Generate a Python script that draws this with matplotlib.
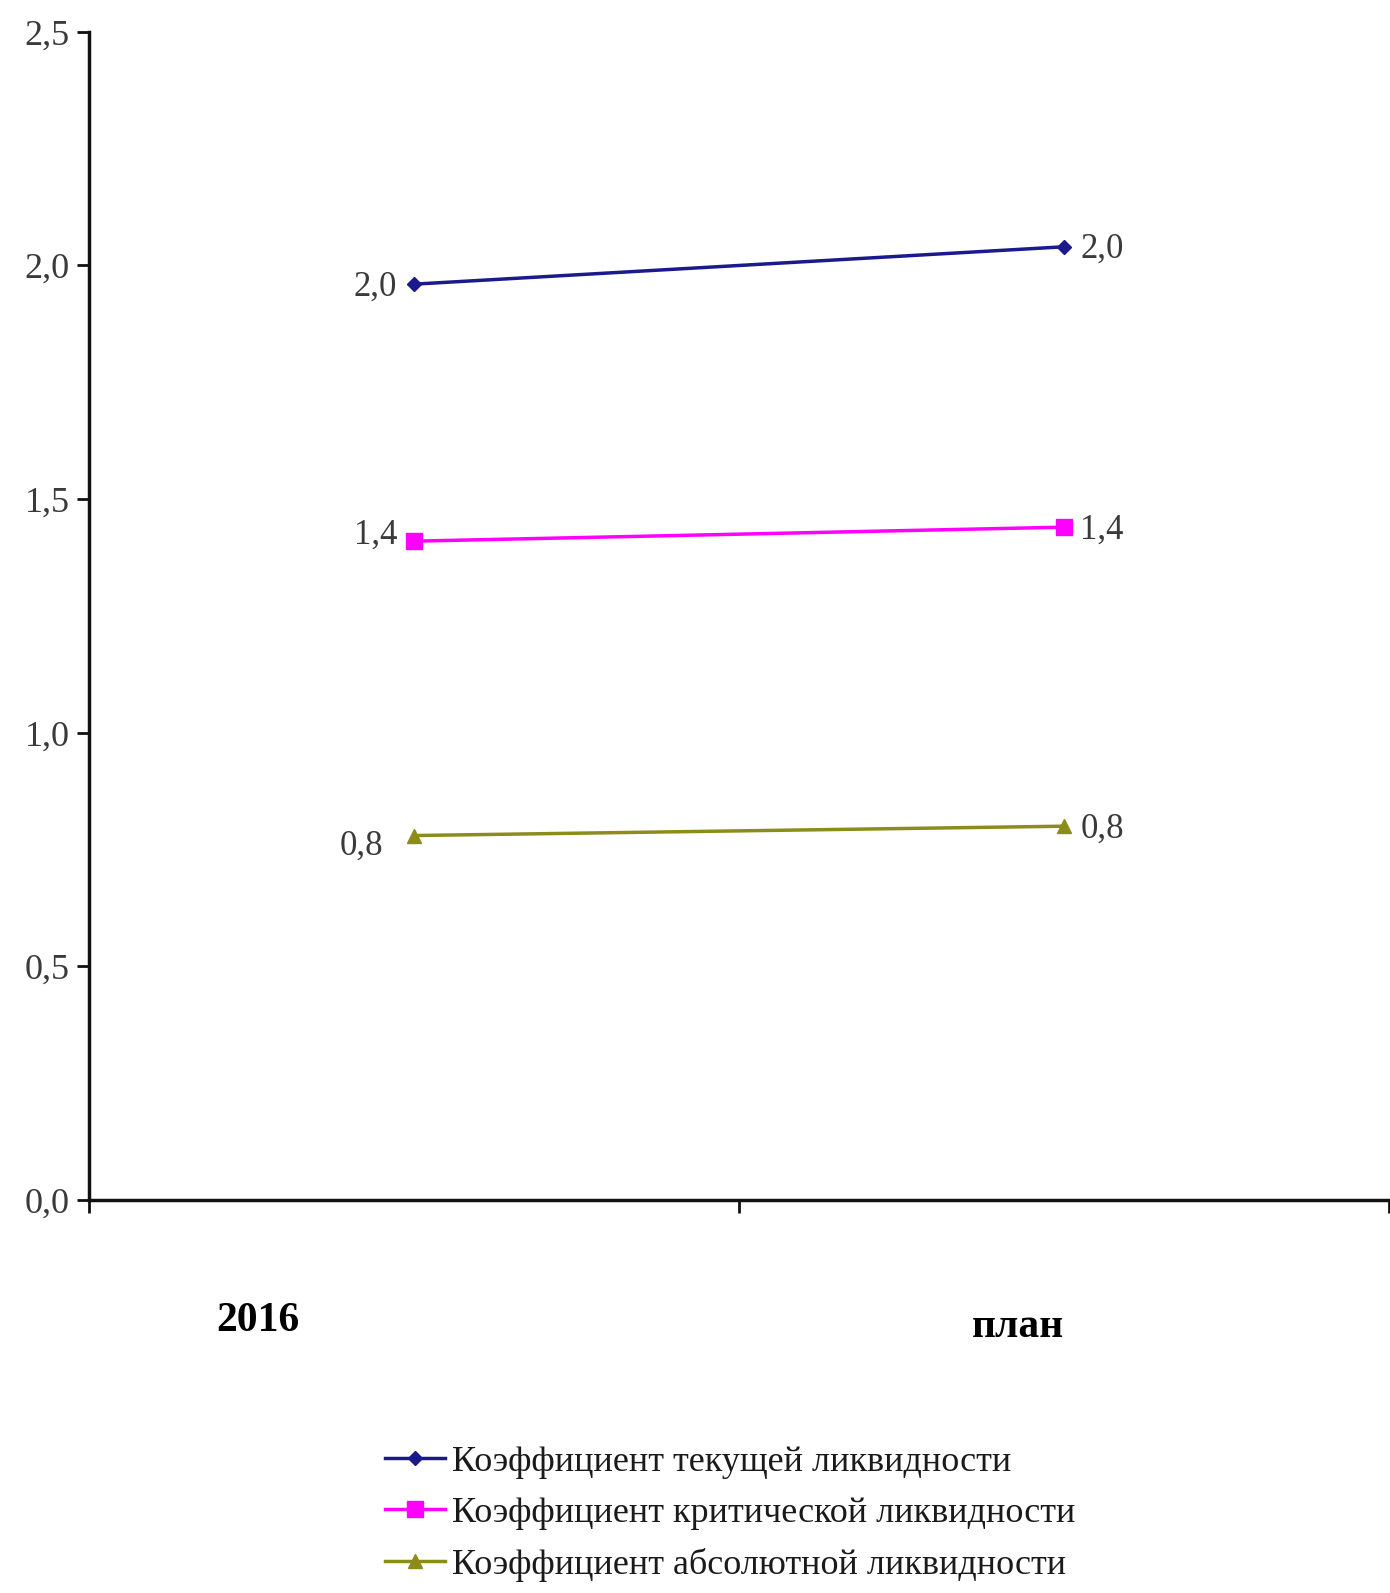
import matplotlib
matplotlib.use("Agg")
import matplotlib.pyplot as plt
from matplotlib.transforms import blended_transform_factory

categories = ["2016", "план"]
series_names = [
    "Коэффициент текущей ликвидности",
    "Коэффициент критической ликвидности",
    "Коэффициент абсолютной ликвидности",
]
current_ratio = [1.96, 2.04]
quick_ratio = [1.41, 1.44]
cash_ratio = [0.78, 0.80]
y_ticks = [0.0, 0.5, 1.0, 1.5, 2.0, 2.5]

values = [current_ratio, quick_ratio, cash_ratio]
colors = ["#1a1a8c", "#ff00ff", "#8c8c1a"]
markers = ["D", "s", "^"]
msizes = [7, 11, 10]
left_offsets = [(-12, -2), (-12, 4), (-22, -8)]

text_color = "#3a3a3a"
serif = ["Liberation Serif", "DejaVu Serif"]


def fmt(v):
    return f"{v:.1f}".replace(".", ",")


fig = plt.figure(figsize=(13.9, 15.93), dpi=100)
ax = fig.add_axes([0.064, 0.2467, 0.935, 0.7333])

x = [0.5, 1.5]
for vals, name, c, m, ms, loff in zip(values, series_names, colors, markers, msizes, left_offsets):
    ax.plot(x, vals, color=c, lw=2.5, marker=m, ms=ms, mfc=c, mec=c, label=name)
    ax.annotate(fmt(vals[0]), (x[0], vals[0]), xytext=loff, textcoords="offset points",
                ha="right", va="center", fontsize=25, family=serif, color=text_color)
    ax.annotate(fmt(vals[1]), (x[1], vals[1]), xytext=(12, -2), textcoords="offset points",
                ha="left", va="center", fontsize=25, family=serif, color=text_color)

ax.set_xlim(0, 2)
ax.set_ylim(0, 2.5)
ax.set_yticks(y_ticks)
ax.set_yticklabels([fmt(t) for t in y_ticks], family=serif, fontsize=26, color=text_color)
ax.set_xticks([0, 1, 2])
ax.set_xticklabels([])
ax.tick_params(axis="both", direction="out", length=9, width=2, color="#111111")
ax.tick_params(axis="y", pad=5)

for side in ("top", "right"):
    ax.spines[side].set_visible(False)
for side in ("left", "bottom"):
    ax.spines[side].set_linewidth(2.5)
    ax.spines[side].set_color("#111111")

# category names sit well below the axis
trans = blended_transform_factory(ax.transData, fig.transFigure)
cat_x = [0.26, 1.43]
cat_y = [0.171, 0.167]
for name, cx, cy in zip(categories, cat_x, cat_y):
    ax.text(cx, cy, name, transform=trans, ha="center", va="center",
            fontsize=30, fontweight="bold", family=serif, color="black")

fig.legend(loc="upper left", bbox_to_anchor=(0.264, 0.104), frameon=False,
           prop={"family": serif, "size": 26}, handlelength=1.65, handletextpad=0.2,
           labelspacing=0.5, borderpad=0, labelcolor="#1a1a1a")

fig.savefig("out.png", dpi=100)
